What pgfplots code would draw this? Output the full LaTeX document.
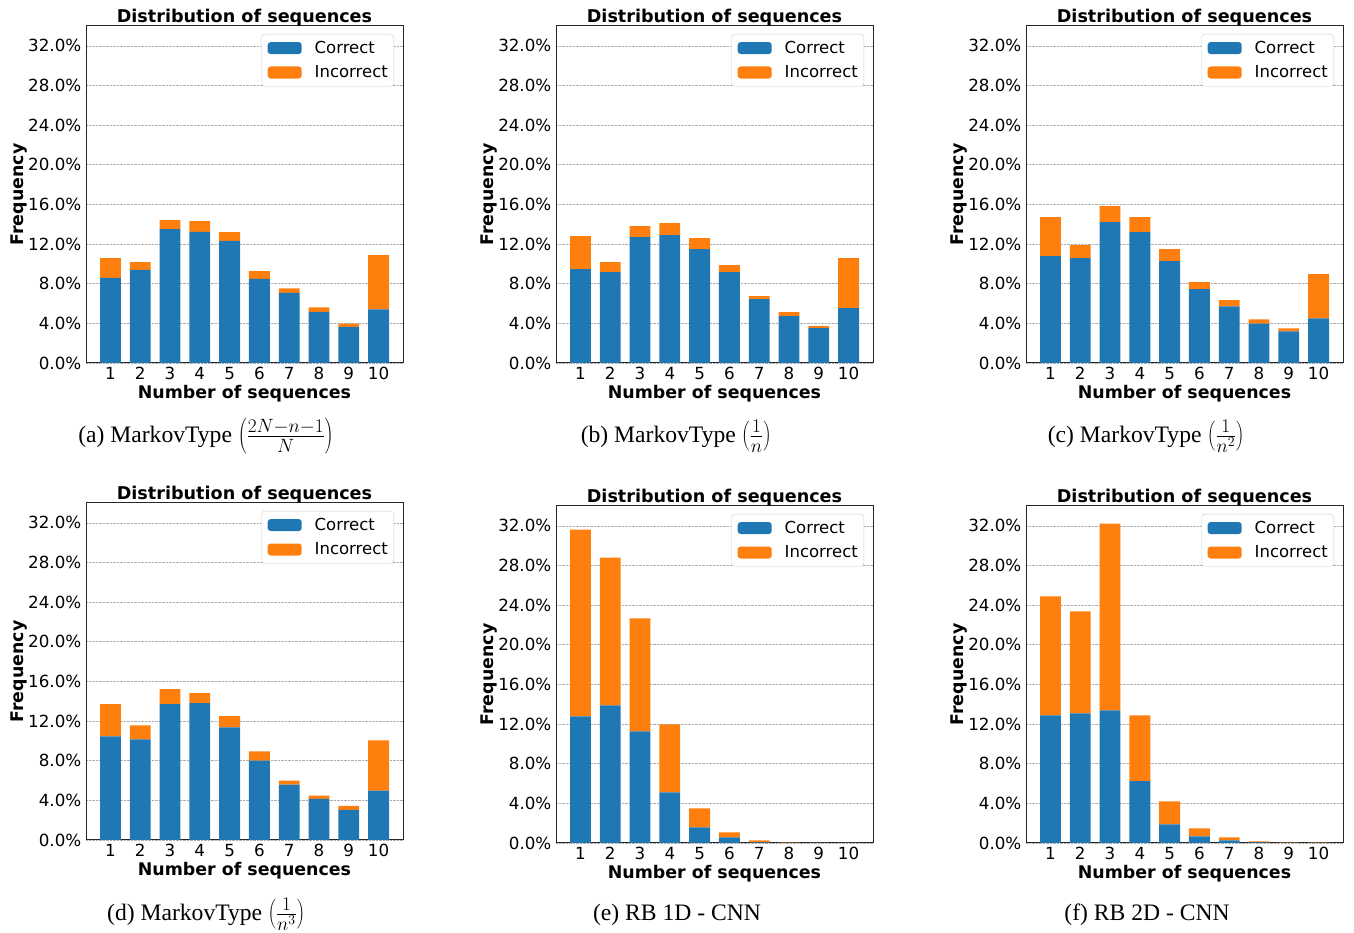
\RequirePackage{fix-cm}
\documentclass[border=0pt]{standalone}
\usepackage{fontspec}
\setmainfont{DejaVu Sans}
\newfontfamily\capfont{Liberation Serif}
\usepackage{pgfplots}
\pgfplotsset{compat=1.18}
\definecolor{cblue}{HTML}{1F77B4}
\definecolor{corange}{HTML}{FF7F0E}
\pgfplotsset{
 every axis title/.style={at={(axis description cs:0.5,1.0104)}, anchor=base, inner sep=0pt},
 dist/.style={
  scale only axis, width=317pt, height=337pt,
  anchor=south west,
  ybar stacked, bar width=0.7,
  xmin=0.18, xmax=10.82, ymin=0, ymax=34,
  xtick={1,2,3,4,5,6,7,8,9,10},
  xticklabels={1,2,3,4,5,6,7,8,9,10},
  ytick={0,4,8,12,16,20,24,28,32},
  yticklabel={\pgfmathprintnumber[fixed,fixed zerofill,precision=1]{\tick}\%},
  /pgf/number format/assume math mode=true,
  major tick length=0pt,
  tick label style={font=\fontsize{16.7}{20}\selectfont},
  yticklabel style={inner sep=0pt, xshift=-4.5pt},
  xticklabel style={inner sep=0pt, yshift=-4pt},
  ymajorgrids, grid style={densely dotted, black!32, line width=0.55pt},
  axis line style={black!85, line width=1pt},
  title={Distribution of sequences},
  title style={font=\bfseries\fontsize{17.6}{20}\selectfont},
  xlabel={Number of sequences},
  xlabel style={font=\bfseries\fontsize{17.4}{20}\selectfont, at={(axis description cs:0.5,-0.0653)}, anchor=north, inner sep=0pt},
  ylabel={Frequency},
  ylabel style={font=\bfseries\fontsize{17.4}{20}\selectfont, at={(axis description cs:-0.2114,0.5)}, anchor=center, inner sep=0pt},
  legend cell align=left,
  legend style={at={(axis description cs:1,1)}, anchor=north east, xshift=-9pt, yshift=-8pt,
    draw=black!20, rounded corners=3pt, fill=white,
    font=\fontsize{16.5}{19}\selectfont,
    inner xsep=6pt, inner ysep=7pt, row sep=10.8pt, column sep=13pt,
    nodes={inner sep=0pt}, cells={anchor=west}},
 },
 cor/.style={fill=cblue, draw=none, legend image code/.code={\fill[cblue] (0pt,-6pt) rectangle (34pt,6pt);}},
 inc/.style={fill=corange, draw=none, legend image code/.code={\fill[corange] (0pt,-6pt) rectangle (34pt,6pt);}},
}
\newcommand{\capmath}[1]{{\fontsize{27.5}{30}\selectfont$#1$}}
\begin{document}
\begin{tikzpicture}
\useasboundingbox (0,0) rectangle (1354pt,933pt);
% (a)
\begin{axis}[dist, at={(86pt,570pt)}]
\addplot[cor] coordinates {(1,8.58) (2,9.39) (3,13.50) (4,13.23) (5,12.32) (6,8.48) (7,7.07) (8,5.15) (9,3.64) (10,5.42)};
\addlegendentry{Correct}
\addplot[inc] coordinates {(1,1.99) (2,0.78) (3,0.91) (4,1.08) (5,0.88) (6,0.78) (7,0.47) (8,0.47) (9,0.34) (10,5.46)};
\addlegendentry{Incorrect}
\end{axis}
% (b)
\begin{axis}[dist, at={(556pt,570pt)}]
\addplot[cor] coordinates {(1,9.48) (2,9.17) (3,12.70) (4,12.90) (5,11.50) (6,9.17) (7,6.45) (8,4.74) (9,3.53) (10,5.54)};
\addlegendentry{Correct}
\addplot[inc] coordinates {(1,3.32) (2,1.01) (3,1.10) (4,1.20) (5,1.10) (6,0.71) (7,0.30) (8,0.40) (9,0.20) (10,5.04)};
\addlegendentry{Incorrect}
\end{axis}
% (c)
\begin{axis}[dist, at={(1026pt,570pt)}]
\addplot[cor] coordinates {(1,10.78) (2,10.58) (3,14.21) (4,13.20) (5,10.27) (6,7.44) (7,5.72) (8,3.98) (9,3.20) (10,4.51)};
\addlegendentry{Correct}
\addplot[inc] coordinates {(1,3.94) (2,1.31) (3,1.62) (4,1.52) (5,1.21) (6,0.71) (7,0.61) (8,0.43) (9,0.30) (10,4.45)};
\addlegendentry{Incorrect}
\end{axis}
% (d)
\begin{axis}[dist, at={(86pt,93pt)}]
\addplot[cor] coordinates {(1,10.45) (2,10.15) (3,13.70) (4,13.80) (5,11.37) (6,8.02) (7,5.58) (8,4.16) (9,3.05) (10,4.97)};
\addlegendentry{Correct}
\addplot[inc] coordinates {(1,3.25) (2,1.42) (3,1.53) (4,1.02) (5,1.12) (6,0.91) (7,0.41) (8,0.31) (9,0.40) (10,5.08)};
\addlegendentry{Incorrect}
\end{axis}
% (e)
\begin{axis}[dist, at={(556pt,90pt)}]
\addplot[cor] coordinates {(1,12.77) (2,13.88) (3,11.26) (4,5.11) (5,1.58) (6,0.57) (7,0.07) (8,0.02) (9,0.01) (10,0.01)};
\addlegendentry{Correct}
\addplot[inc] coordinates {(1,18.85) (2,14.92) (3,11.39) (4,6.85) (5,1.92) (6,0.51) (7,0.20) (8,0.03) (9,0.01) (10,0.01)};
\addlegendentry{Incorrect}
\end{axis}
% (f)
\begin{axis}[dist, at={(1026pt,90pt)}]
\addplot[cor] coordinates {(1,12.87) (2,13.08) (3,13.38) (4,6.23) (5,1.88) (6,0.67) (7,0.27) (8,0.07) (9,0.02) (10,0.01)};
\addlegendentry{Correct}
\addplot[inc] coordinates {(1,12.00) (2,10.28) (3,18.85) (4,6.64) (5,2.32) (6,0.81) (7,0.30) (8,0.10) (9,0.03) (10,0.02)};
\addlegendentry{Incorrect}
\end{axis}
\begin{scope}[every node/.style={anchor=base, font=\capfont\fontsize{23.6}{28}\selectfont}]
\node at (206pt,490pt) {(a) MarkovType \capmath{\left(\frac{2N-n-1}{N}\right)}};
\node at (676pt,490pt) {(b) MarkovType \capmath{\left(\frac{1}{n}\right)}};
\node at (1146pt,490pt) {(c) MarkovType \capmath{\left(\frac{1}{n^2}\right)}};
\node at (206pt,12pt) {(d) MarkovType \capmath{\left(\frac{1}{n^3}\right)}};
\node at (677pt,12pt) {(e) RB 1D - CNN};
\node at (1147pt,12pt) {(f) RB 2D - CNN};
\end{scope}
\end{tikzpicture}
\end{document}
